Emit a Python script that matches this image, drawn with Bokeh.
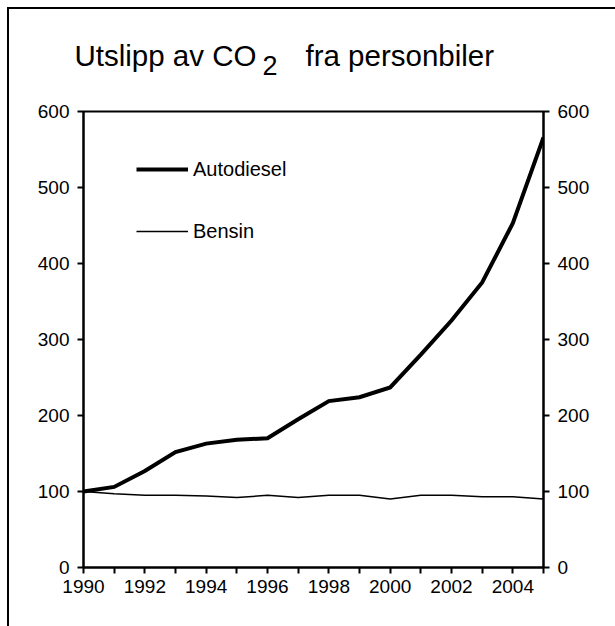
from bokeh.plotting import figure
from bokeh.layouts import column
from bokeh.models import (Range1d, LinearAxis, FixedTicker, ColumnDataSource,
                          Legend, LegendItem)
from bokeh.core.properties import value
from bokeh.embed import file_html
from bokeh.resources import INLINE

# ---- data ----
years = [1990, 1991, 1992, 1993, 1994, 1995, 1996, 1997, 1998, 1999,
         2000, 2001, 2002, 2003, 2004, 2005]
autodiesel = [100, 106, 127, 152, 163, 168, 170, 195, 219, 224,
              237, 280, 325, 375, 453, 566]
bensin = [100, 97, 95, 95, 94, 92, 95, 92, 95, 95,
          90, 95, 95, 93, 93, 90]
y_ticks = [0, 100, 200, 300, 400, 500, 600]
x_labels = {y: (str(y) if y % 2 == 0 else "") for y in years}
title_parts = ["Utslipp av CO", "2", "fra personbiler"]

FONT = "Liberation Sans"
W = 606

# ---- title strip (its frame is a pixel canvas, y downward) ----
TH = 80
t = figure(width=W, height=TH, output_backend="svg", toolbar_location=None,
           x_range=Range1d(0, W), y_range=Range1d(TH, 0),
           x_axis_type=None, y_axis_type=None,
           min_border=0, min_border_left=0, min_border_right=0,
           min_border_top=0, min_border_bottom=0)
t.frame_align = False
t.outline_line_color = None
t.background_fill_color = "white"
t.border_fill_color = "white"
t.xgrid.visible = False
t.ygrid.visible = False
tsrc = ColumnDataSource(dict(x=[65, 253, 296], y=[46, 56, 46],
                             text=title_parts,
                             fs=["29.5px", "27px", "29.5px"]))
t.text(x="x", y="y", text="text", source=tsrc, text_font=value(FONT),
       text_font_size="fs", text_color="black", text_baseline="alphabetic",
       text_align="left")

# ---- main chart ----
p = figure(width=W, height=617 - TH, output_backend="svg", toolbar_location=None,
           x_range=Range1d(1990, 2005), y_range=Range1d(0, 600),
           min_border_left=74, min_border_right=72,
           min_border_top=111 - 9 - TH, min_border_bottom=59)
p.frame_align = False
p.background_fill_color = "white"
p.border_fill_color = "white"
p.outline_line_color = "black"
p.outline_line_width = 2
p.xgrid.visible = False
p.ygrid.visible = False

def style_axis(ax):
    ax.axis_line_color = "black"
    ax.axis_line_width = 2
    ax.major_tick_line_color = "black"
    ax.major_tick_line_width = 2
    ax.major_tick_in = 0
    ax.major_tick_out = 6
    ax.minor_tick_line_color = None
    ax.major_label_text_font = FONT
    ax.major_label_text_font_size = "19px"
    ax.major_label_text_color = "black"

xa = p.xaxis[0]
xa.ticker = FixedTicker(ticks=years)
xa.major_label_overrides = x_labels
xa.major_label_standoff = 6
style_axis(xa)

ya = p.yaxis[0]
ya.ticker = FixedTicker(ticks=y_ticks)
ya.major_label_standoff = 8
style_axis(ya)

yr = LinearAxis(ticker=FixedTicker(ticks=y_ticks))
yr.major_label_standoff = 8
style_axis(yr)
p.add_layout(yr, "right")

r1 = p.line(years, autodiesel, line_color="black", line_width=4, line_join="miter")
r2 = p.line(years, bensin, line_color="black", line_width=1.5)

legend = Legend(items=[LegendItem(label="Autodiesel", renderers=[r1]),
                       LegendItem(label="Bensin", renderers=[r2])],
                location=(53, 324), orientation="vertical",
                glyph_width=52, glyph_height=24, label_height=24,
                label_standoff=5, spacing=38, padding=0, margin=0,
                label_text_font=FONT, label_text_font_size="20px",
                label_text_color="black",
                background_fill_alpha=0, border_line_color=None)
p.add_layout(legend, "center")

page = column(t, p, spacing=0)
page.styles = {"margin-left": "7px", "margin-top": "7px",
               "border-left": "2px solid black", "border-top": "2px solid black"}

open("out.html", "w").write(file_html(page, INLINE))
